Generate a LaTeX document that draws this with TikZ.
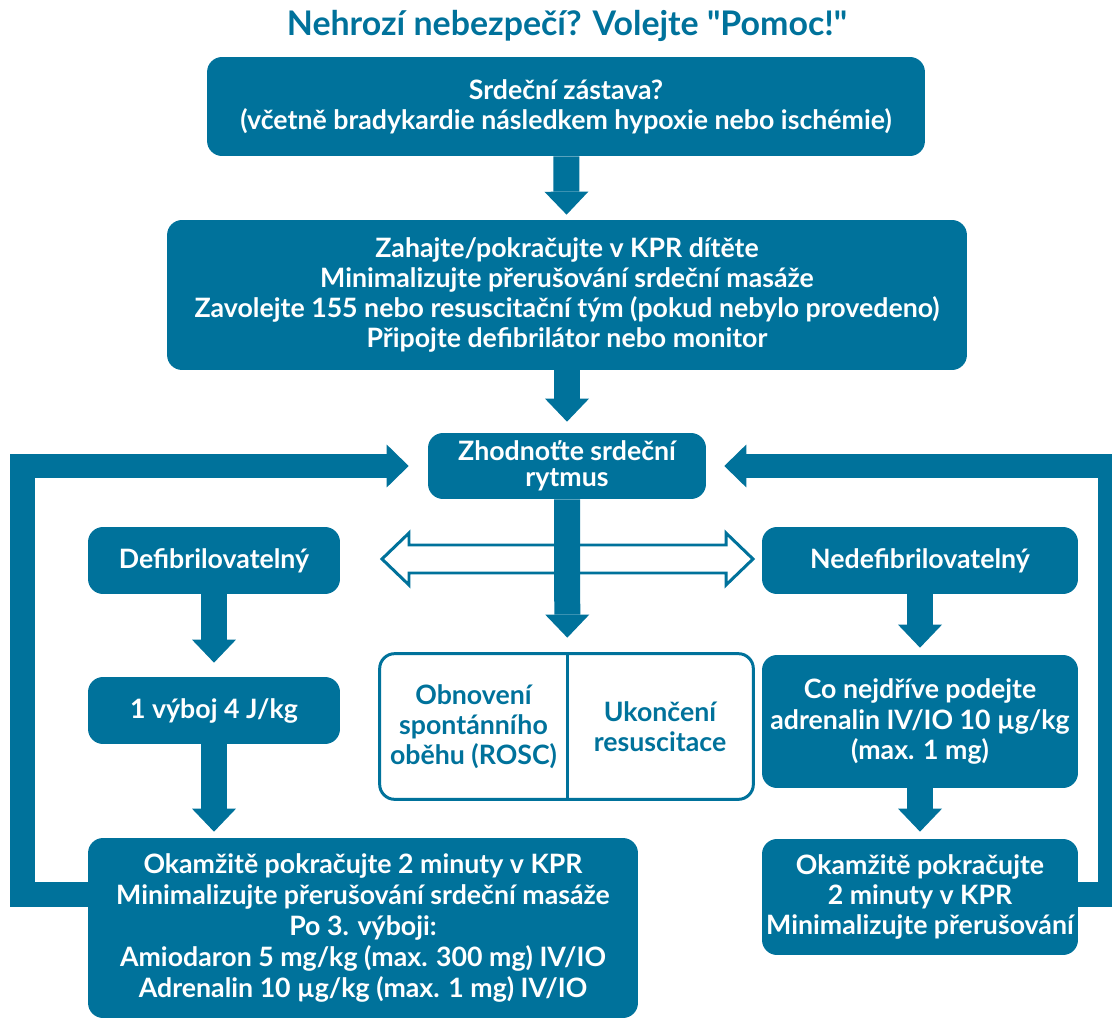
\documentclass[tikz,border=0pt]{standalone}
\usepackage{fontspec}
\setmainfont{Lato}
\usetikzlibrary{arrows.meta}

\definecolor{ercblue}{RGB}{0,114,155}

\tikzset{
  krok/.style={fill=ercblue, text=white, rounded corners=0.3cm, align=center,
    inner sep=0pt, font=\fontsize{15.2}{17.1}\selectfont\bfseries},
  stav/.style={text=ercblue, align=center, inner sep=0pt,
    font=\fontsize{15.2}{17.1}\selectfont\bfseries},
  sipka/.style={draw=ercblue, line width=0.52cm,
    -{Triangle[length=0.46cm, width=0.88cm, line width=0pt]}},
  smycka/.style={draw=ercblue, line width=0.5cm, line join=miter,
    -{Triangle[length=0.44cm, width=0.86cm, line width=0pt]}},
  dutasipka/.style={draw=ercblue, fill=white, line width=1.7pt, line join=miter},
}

\begin{document}
\begin{tikzpicture}[x=0.02cm, y=-0.02cm]
    \clip (0,0) rectangle (1112,1020);

    \node[text=ercblue, font=\fontsize{19.3}{22}\selectfont\bfseries] (nadpis) at (567,26)
        {Nehrozí nebezpečí? Volejte \textquotedbl Pomoc!\textquotedbl};

    % hlavni osa
    \node[krok, minimum width=14.36cm, minimum height=1.98cm] (zastava) at (566,106.5)
        {Srdeční zástava?\\(včetně bradykardie následkem hypoxie nebo ischémie)};
    \node[krok, minimum width=16cm, minimum height=3cm] (kpr) at (567,295)
        {Zahajte/pokračujte v KPR dítěte\\Minimalizujte přerušování srdeční masáže\\
         Zavolejte 155 nebo resuscitační tým (pokud nebylo provedeno)\\
         Připojte defibrilátor nebo monitor};
    \node[krok, minimum width=5.56cm, minimum height=1.32cm,
        font=\fontsize{15.2}{14.8}\selectfont\bfseries] (rytmus) at (567,466)
        {Zhodnoťte srdeční\\rytmus};

    % levá větev
    \node[krok, minimum width=5.04cm, minimum height=1.34cm] (defib) at (214,560.5)
        {Defibrilovatelný};
    \node[krok, minimum width=5.04cm, minimum height=1.34cm] (vyboj) at (214,710.5)
        {1 výboj 4 J/kg};
    \node[krok, minimum width=11cm, minimum height=3.6cm,
        font=\fontsize{15.2}{17.6}\selectfont\bfseries] (kprL) at (363,928)
        {Okamžitě pokračujte 2 minuty v KPR\\Minimalizujte přerušování srdeční masáže\\
         Po 3. výboji:\\Amiodaron 5 mg/kg (max. 300 mg) IV/IO\\
         Adrenalin 10 µg/kg (max. 1 mg) IV/IO};

    % pravá větev
    \node[krok, minimum width=6.32cm, minimum height=1.34cm] (nedefib) at (920,560.5)
        {Nedefibrilovatelný};
    \node[krok, minimum width=6.32cm, minimum height=2.66cm] (adrenalin) at (920,721.5)
        {Co nejdříve podejte\\adrenalin IV/IO 10 µg/kg\\(max. 1 mg)};
    \node[krok, minimum width=6.32cm, minimum height=2.32cm] (kprR) at (920,897)
        {Okamžitě pokračujte\\2 minuty v KPR\\Minimalizujte přerušování};

    % ROSC / ukončení
    \node[stav, minimum width=3.74cm, minimum height=2.9cm] (rosc) at (473.5,726.5)
        {Obnovení\\spontánního\\oběhu (ROSC)};
    \node[stav, minimum width=3.72cm, minimum height=2.9cm] (ukonceni) at (660,726.5)
        {Ukončení\\resuscitace};
    \draw[ercblue, line width=1.7pt, rounded corners=0.3cm]
        (rosc.north west) rectangle (ukonceni.south east);
    \draw[ercblue, line width=1.7pt] (rosc.north east) -- (rosc.south east);

    % dutá šipka
    \draw[dutasipka] (382,559) -- (409,533) -- (409,545) -- (726,545) -- (726,533)
        -- (753,559) -- (726,585) -- (726,573) -- (409,573) -- (409,585) -- cycle;

    % šipky
    \draw[sipka, shorten >=0.1cm] (zastava) -- (kpr);
    \draw[sipka, shorten >=0.22cm] (kpr) -- (rytmus);
    \draw[sipka, shorten >=0.32cm] (rytmus) -- (rosc.north east);
    \draw[sipka, shorten >=0.28cm] (defib) -- (vyboj);
    \draw[sipka, shorten >=0.12cm] (vyboj) -- (vyboj |- kprL.north);
    \draw[sipka, shorten >=0.14cm] (nedefib) -- (adrenalin);
    \draw[sipka, shorten >=0.14cm] (adrenalin) -- (kprR);

    % smyčky zpět
    \draw[smycka, shorten >=0.38cm] ([yshift=0.67cm]kprL.west) -- ++(-65.5,0) |- (rytmus);
    \draw[smycka, shorten >=0.36cm] ([yshift=0.05cm]kprR.east) -- ++(32.5,0) |- (rytmus);
\end{tikzpicture}
\end{document}
